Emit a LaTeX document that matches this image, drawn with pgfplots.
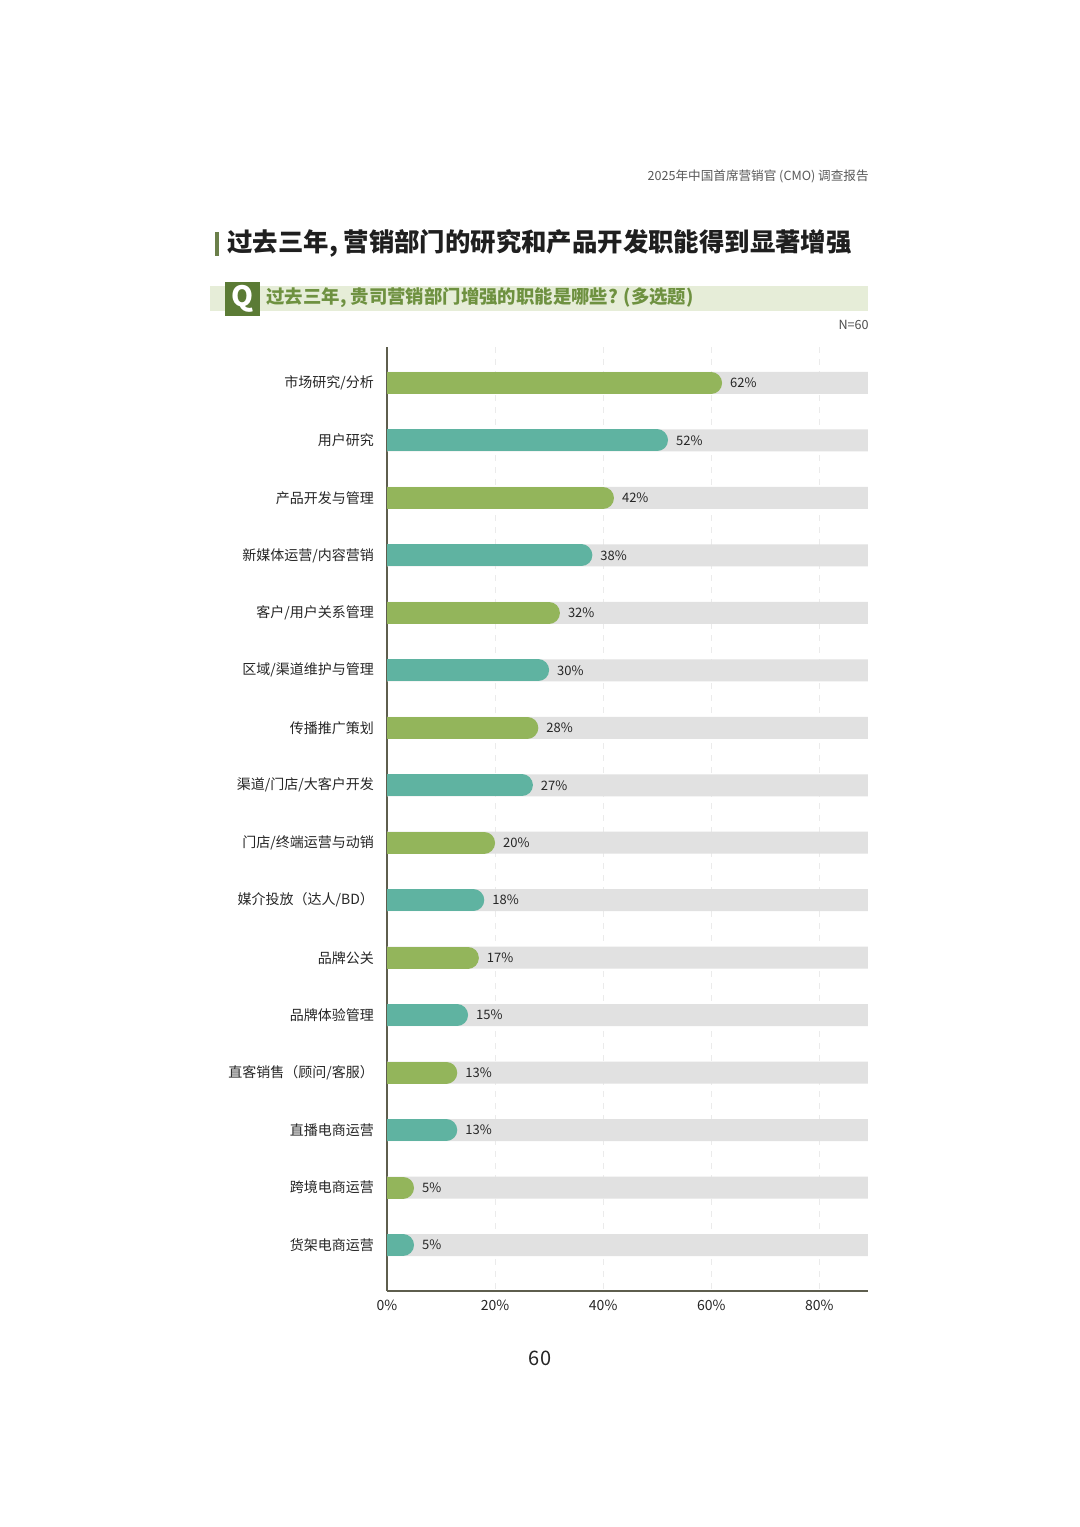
\documentclass[border=0pt]{standalone}
\usepackage{fontspec}
\setmainfont{Noto Sans CJK SC}
\usepackage{pgfplots}
\pgfplotsset{compat=1.18}
\definecolor{cgreen}{HTML}{93B55B}
\definecolor{cteal}{HTML}{5FB3A1}
\definecolor{ctrack}{HTML}{E1E1E1}
\definecolor{caxis}{HTML}{5E5E4E}
\definecolor{qbar}{HTML}{E6EDD8}
\definecolor{qbox}{HTML}{5B7B35}
\definecolor{qtext}{HTML}{6E9140}
\definecolor{tbar}{HTML}{6B7F4A}
\newcommand{\rbar}[3]{\addplot[draw=#1, line width=11pt, line cap=round, shorten >=5.5pt, forget plot] coordinates {(0,#2) (#3,#2)};}
\begin{document}
\begin{tikzpicture}
\fill[white] (0,0) rectangle (540pt,763.5pt);
\begin{scope}[x=0.5pt,y=-0.5pt,shift={(0,763.5pt)}]
\node[anchor=east, font=\fontsize{6.3}{7}\selectfont, text=black!65, inner sep=0] at (869,176) {2025年中国首席营销官 (CMO) 调查报告};
\fill[tbar] (215,232) rectangle (219,256);
\node[anchor=west, font=\fontsize{12.7}{14}\selectfont\bfseries, text=black!88, inner sep=0] at (227,243) {过去三年, 营销部门的研究和产品开发职能得到显著增强};
\fill[qbar] (210,286) rectangle (868,311);
\fill[qbox] (225,282) rectangle (260,316);
\node[font=\fontsize{14}{15}\selectfont\bfseries, text=white, inner sep=0] at (242.5,299) {Q};
\node[anchor=west, font=\fontsize{9.2}{10}\selectfont\bfseries, text=qtext, inner sep=0] at (266,298) {过去三年, 贵司营销部门增强的职能是哪些? (多选题)};
\node[anchor=east, font=\fontsize{6.3}{7}\selectfont, text=black!70, inner sep=0] at (869,325) {N=60};
\node[font=\fontsize{10}{11}\selectfont, text=black!85, inner sep=0] at (540,1358) {60};
\end{scope}
\begin{axis}[
  at={(193.5pt,118pt)}, anchor=south west,
  scale only axis, width=240.5pt, height=472pt,
  xmin=0, xmax=89, ymin=-0.626, ymax=15.8, y dir=reverse,
  axis x line*=bottom, axis y line*=left,
  axis line style={draw=caxis, line width=0.75pt, -},
  xtick={0,20,40,60,80}, xticklabels={0\%,20\%,40\%,60\%,80\%},
  ytick={0,...,15},
  yticklabels={市场研究/分析,用户研究,产品开发与管理,新媒体运营/内容营销,客户/用户关系管理,区域/渠道维护与管理,传播推广策划,渠道/门店/大客户开发,门店/终端运营与动销,媒介投放（达人/BD）,品牌公关,品牌体验管理,直客销售（顾问/客服）,直播电商运营,跨境电商运营,货架电商运营},
  major tick length=0pt,
  tick label style={font=\fontsize{7}{8}\selectfont, text=black!85},
  yticklabel style={xshift=-3pt},
  xticklabel style={yshift=-1pt},
  xmajorgrids, grid style={draw=black!8, dashed, line width=0.5pt},
  /pgf/number format/assume math mode=true,
]
\addplot[xbar, bar width=11pt, fill=ctrack, draw=none, forget plot] coordinates {
(89,0) (89,1) (89,2) (89,3) (89,4) (89,5) (89,6) (89,7) (89,8) (89,9) (89,10) (89,11) (89,12) (89,13) (89,14) (89,15)};
\rbar{cgreen}{0}{62}
\rbar{cteal}{1}{52}
\rbar{cgreen}{2}{42}
\rbar{cteal}{3}{38}
\rbar{cgreen}{4}{32}
\rbar{cteal}{5}{30}
\rbar{cgreen}{6}{28}
\rbar{cteal}{7}{27}
\rbar{cgreen}{8}{20}
\rbar{cteal}{9}{18}
\rbar{cgreen}{10}{17}
\rbar{cteal}{11}{15}
\rbar{cgreen}{12}{13}
\rbar{cteal}{13}{13}
\rbar{cgreen}{14}{5}
\rbar{cteal}{15}{5}
\addplot[draw=none, mark=none, point meta=x,
  nodes near coords={\pgfmathprintnumber{\pgfplotspointmeta}\%},
  every node near coord/.append style={anchor=west, xshift=0.5pt, font=\fontsize{6.5}{7}\selectfont, text=black!85}]
coordinates {(62,0) (52,1) (42,2) (38,3) (32,4) (30,5) (28,6) (27,7) (20,8) (18,9) (17,10) (15,11) (13,12) (13,13) (5,14) (5,15)};
\end{axis}
\end{tikzpicture}
\end{document}
